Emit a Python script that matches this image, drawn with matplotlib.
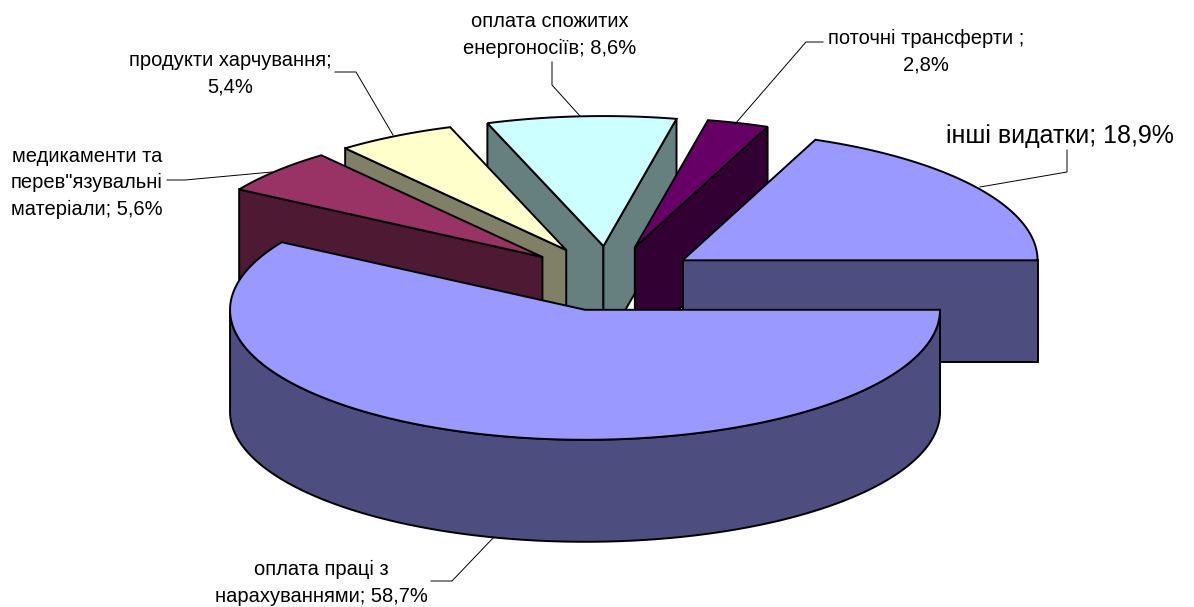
import numpy as np
import matplotlib
matplotlib.use("Agg")
import matplotlib.pyplot as plt
from matplotlib.patches import Polygon

plt.rcParams['font.family'] = ['Liberation Sans', 'DejaVu Sans']

# clockwise from 3 o'clock
names = ["оплата праці з\nнарахуваннями; 58,7%",
         "медикаменти та\nперев\"язувальні\nматеріали; 5,6%",
         "продукти харчування;\n5,4%",
         "оплата спожитих\nенергоносіїв; 8,6%",
         "поточні трансферти ;\n2,8%",
         "інші видатки; 18,9%"]
values = [58.7, 5.6, 5.4, 8.6, 2.8, 18.9]
top_colors = ["#9999FF", "#993366", "#FFFFCC", "#CCFFFF", "#660066", "#9999FF"]
side_colors = ["#4D4D80", "#4D1933", "#808066", "#668080", "#330033", "#4D4D80"]

# pie geometry in pixels
cx, cy = 609, 278.5
rx, ry = 355, 130
depth = 102
explode = 0.25

# label centre x, centre y, size
label_pos = [(321, 583, 14.5),
             (87, 183, 14.5),
             (230, 74, 14.5),
             (550, 35, 14.5),
             (926, 52, 14.5),
             (1060, 136, 18)]
leaders = [[(431, 581), (452, 581), (494, 537)],
           [(167, 180), (185, 180), (272, 172)],
           [(335, 72), (356, 72), (393, 135)],
           [(552, 62), (552, 85), (580, 116)],
           [(823, 42), (806, 42), (735, 124)],
           [(1067, 150), (1067, 172), (980, 187)]]


def arc(x0, y0, a0, a1):
    t = np.radians(np.linspace(a0, a1, 200))
    return np.column_stack([x0 + rx * np.cos(t), y0 + ry * np.sin(t)])


def face(poly, color, z):
    ax.add_patch(Polygon(poly, closed=True, facecolor=color, edgecolor="black",
                         linewidth=1.4, joinstyle="miter", zorder=z))


fig = plt.figure(figsize=(11.94, 6.07), dpi=100)
ax = fig.add_axes([0, 0, 1, 1])
ax.set_xlim(0, 1194)
ax.set_ylim(607, 0)
ax.axis("off")

edges = np.concatenate([[0], np.cumsum(values)]) * 360 / np.sum(values)
mids = (edges[:-1] + edges[1:]) / 2

# back slices first
order = np.argsort(np.sin(np.radians(mids)))
for z, i in enumerate(order):
    a0, a1 = edges[i], edges[i + 1]
    m = np.radians(mids[i])
    x0 = cx + explode * rx * np.cos(m)
    y0 = cy + explode * ry * np.sin(m)
    apex = np.array([x0, y0])
    down = np.array([0, depth])
    rim = arc(x0, y0, a0, a1)

    # radial walls, only those facing the viewer
    if np.cos(np.radians(a0)) < 0:
        face([apex, rim[0], rim[0] + down, apex + down], side_colors[i], z * 10 + 1)
    if np.cos(np.radians(a1)) > 0:
        face([apex, rim[-1], rim[-1] + down, apex + down], side_colors[i], z * 10 + 1)
    # outer wall on the front half
    if a0 < 180:
        front = arc(x0, y0, a0, min(a1, 180))
        face(np.vstack([front, front[::-1] + down]), side_colors[i], z * 10 + 2)
    face(np.vstack([apex, rim]), top_colors[i], z * 10 + 3)

for name, (x, y, size), line in zip(names, label_pos, leaders):
    ax.text(x, y, name, fontsize=size, ha="center", va="center",
            multialignment="center", color="black", linespacing=1.5, zorder=100)
    xs, ys = zip(*line)
    ax.plot(xs, ys, color="black", linewidth=0.7, zorder=100)

fig.savefig("out.png", dpi=100)
